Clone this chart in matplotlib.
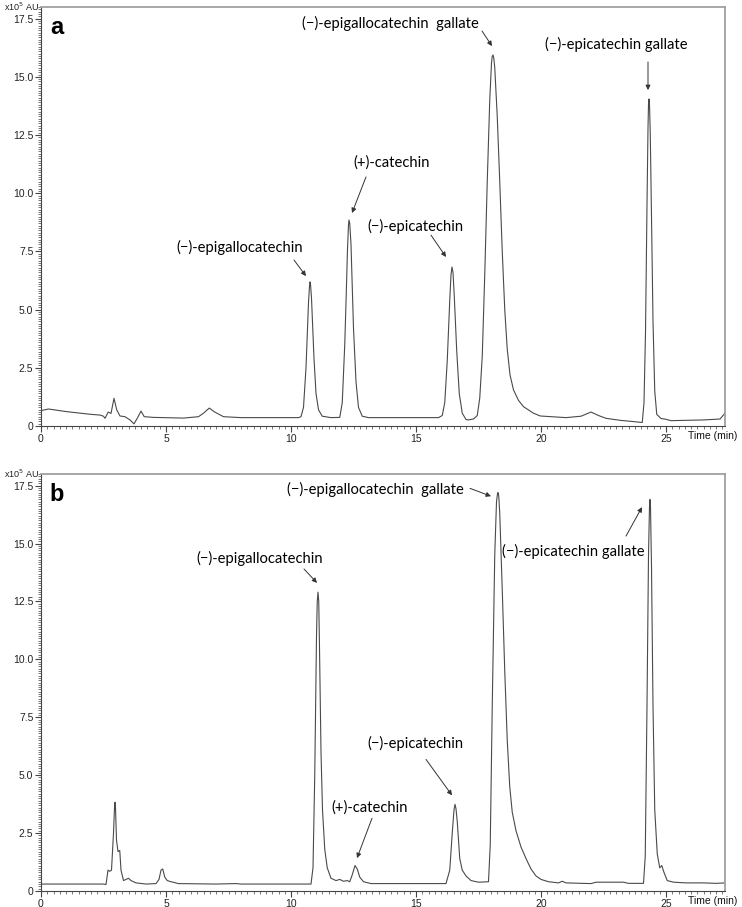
import matplotlib
matplotlib.use("Agg")
import matplotlib.pyplot as plt
from matplotlib.ticker import MultipleLocator, FuncFormatter

# ---- data ----
a_time = [0, 0.3, 1.0, 2.0, 2.36, 2.5, 2.56, 2.69, 2.8, 2.92, 3.03, 3.16, 3.36, 3.56, 3.72, 3.85,
          4.0, 4.13, 4.5, 5.7, 6.3, 6.5, 6.73, 6.95, 7.3, 8.0, 10.3, 10.4, 10.5, 10.6, 10.65, 10.7,
          10.74, 10.76, 10.78, 10.82, 10.87, 10.92, 11.0, 11.1, 11.25, 11.6, 11.95, 12.05, 12.15,
          12.2, 12.26, 12.3, 12.32, 12.35, 12.4, 12.45, 12.5, 12.6, 12.7, 12.85, 13.1, 15.9, 16.05,
          16.15, 16.25, 16.35, 16.4, 16.44, 16.48, 16.53, 16.63, 16.73, 16.85, 17.0, 17.08, 17.3,
          17.45, 17.55, 17.65, 17.75, 17.85, 17.95, 18.02, 18.05, 18.08, 18.11, 18.15, 18.25, 18.35,
          18.45, 18.55, 18.65, 18.76, 18.9, 19.1, 19.3, 19.7, 19.97, 21.0, 21.6, 22.0, 22.3, 22.6,
          23.2, 23.7, 24.05, 24.12, 24.18, 24.24, 24.28, 24.3, 24.32, 24.34, 24.37, 24.42, 24.48,
          24.55, 24.63, 24.8, 24.95, 25.2, 26.5, 27.16, 27.36]
a_signal = [0.66, 0.73, 0.62, 0.5, 0.47, 0.42, 0.33, 0.6, 0.54, 1.19, 0.69, 0.43, 0.4, 0.26, 0.09, 0.33,
            0.64, 0.4, 0.37, 0.34, 0.4, 0.55, 0.77, 0.6, 0.4, 0.36, 0.36, 0.4, 0.8, 2.5, 3.9, 5.3,
            6.0, 6.19, 6.1, 5.5, 4.2, 2.9, 1.4, 0.7, 0.42, 0.36, 0.37, 1.0, 3.5,
            5.3, 7.6, 8.65, 8.85, 8.7, 7.8, 6.0, 4.2, 1.9, 0.8, 0.42, 0.36, 0.36, 0.45,
            1.0, 2.8, 5.4, 6.5, 6.83, 6.6, 5.6, 3.2, 1.4, 0.55, 0.28, 0.26, 0.3,
            0.45, 1.2, 3.0, 6.5, 10.5, 14.0, 15.6, 15.88, 15.94, 15.82, 15.4, 13.3, 10.5,
            7.5, 5.0, 3.3, 2.2, 1.55, 1.1, 0.83, 0.55, 0.43, 0.36, 0.42, 0.6, 0.45, 0.33,
            0.24, 0.19, 0.15, 1.0, 4.0, 9.5, 12.8, 13.8, 14.05, 13.8, 12.6, 9.0, 4.5,
            1.5, 0.5, 0.32, 0.3, 0.23, 0.26, 0.3, 0.55]

b_time = [0, 2.5, 2.6, 2.68, 2.75, 2.82, 2.9, 2.94, 2.96, 2.98, 3.02, 3.08, 3.15, 3.2, 3.3, 3.4, 3.5,
          3.6, 3.8, 4.2, 4.6, 4.72, 4.8, 4.87, 4.95, 5.05, 5.2, 5.5, 7.0, 7.8, 8.0, 10.8, 10.88,
          10.95, 11.02, 11.05, 11.08, 11.11, 11.14, 11.2, 11.26, 11.35, 11.45, 11.6, 11.8, 11.95,
          12.1, 12.25, 12.35, 12.45, 12.56, 12.65, 12.75, 12.9, 13.2, 16.2, 16.35, 16.45, 16.52,
          16.56, 16.6, 16.65, 16.75, 16.85, 17.0, 17.2, 17.5, 17.9, 17.97, 18.05, 18.15, 18.22,
          18.26, 18.28, 18.31, 18.35, 18.45, 18.55, 18.65, 18.75, 18.85, 19.0, 19.2, 19.4, 19.6,
          19.8, 20.0, 20.3, 20.7, 20.85, 21.0, 22.0, 22.2, 23.3, 23.5, 24.1, 24.17, 24.24, 24.3,
          24.34, 24.36, 24.38, 24.42, 24.48, 24.55, 24.65, 24.75, 24.83, 24.92, 25.05, 25.3, 25.8,
          26.5, 27.0, 27.36]
b_signal = [0.3, 0.3, 0.28, 0.9, 0.85, 0.9, 2.5, 3.6, 3.83, 3.6, 2.2, 1.7, 1.75, 0.9, 0.45, 0.5, 0.55,
            0.45, 0.35, 0.3, 0.32, 0.5, 0.9, 0.95, 0.6, 0.45, 0.4, 0.32, 0.3, 0.32, 0.3, 0.3, 1.0,
            5.0, 11.0, 12.5, 12.9, 12.5, 10.5, 6.0, 3.5, 1.8, 1.0, 0.55, 0.45, 0.5,
            0.42, 0.45, 0.4, 0.7, 1.1, 0.95, 0.6, 0.4, 0.32, 0.32, 0.9, 2.5, 3.5,
            3.74, 3.55, 3.0, 1.4, 0.9, 0.65, 0.45, 0.38, 0.4, 2.0, 8.0, 14.5, 16.8,
            17.15, 17.2, 17.05, 16.3, 13.0, 9.5, 6.5, 4.5, 3.4, 2.6, 1.9, 1.4, 0.95,
            0.65, 0.5, 0.4, 0.35, 0.42, 0.35, 0.32, 0.38, 0.38, 0.33, 0.33, 1.5, 8.0, 14.5,
            16.6, 16.9, 16.6, 14.0, 8.0, 3.5, 1.6, 1.0, 1.1, 0.8, 0.45, 0.38, 0.35,
            0.35, 0.33, 0.35]

y_ticks = [0, 2.5, 5.0, 7.5, 10.0, 12.5, 15.0, 17.5]
x_ticks = [0, 5, 10, 15, 20, 25]

a_labels = ["(\u2212)-epigallocatechin", "(+)-catechin", "(\u2212)-epicatechin",
            "(\u2212)-epigallocatechin  gallate", "(\u2212)-epicatechin gallate"]
b_labels = ["(\u2212)-epigallocatechin", "(\u2212)-epigallocatechin  gallate", "(\u2212)-epicatechin",
            "(+)-catechin", "(\u2212)-epicatechin gallate"]

# ---- figure ----
W, H = 742, 907
fig = plt.figure(figsize=(W / 100, H / 100), dpi=100)
plt.rcParams['font.family'] = ['Liberation Sans', 'DejaVu Sans']

def px_axes(left, top, right, bottom):
    return fig.add_axes([left / W, 1 - bottom / H, (right - left) / W, (bottom - top) / H])

ax_a = px_axes(41, 7, 725, 426)
ax_b = px_axes(41, 474, 725, 891)

ann_font = dict(family=['Lato', 'DejaVu Sans'], fontsize=10.6, color='#000000')
arrow = dict(arrowstyle='-|>', lw=0.7, color='#333333', mutation_scale=7, shrinkA=0, shrinkB=0)

def style(ax, xmax, panel):
    ax.set_xlim(0, xmax)
    ax.set_ylim(0, 18.0)
    ax.set_xticks(x_ticks)
    ax.set_yticks(y_ticks)
    ax.xaxis.set_minor_locator(MultipleLocator(0.25))
    ax.yaxis.set_minor_locator(MultipleLocator(0.1))
    ax.yaxis.set_major_formatter(FuncFormatter(lambda v, p: "0" if v == 0 else f"{v:.1f}"))
    ax.tick_params(axis='both', which='major', length=4, width=0.8, color='#444444',
                   labelsize=7.5, labelcolor='#222222', pad=1.5)
    ax.tick_params(axis='both', which='minor', length=2, width=0.5, color='#444444')
    for s in ['top', 'right']:
        ax.spines[s].set_color('#a0a0a0')
        ax.spines[s].set_linewidth(1.3)
    for s in ['left', 'bottom']:
        ax.spines[s].set_color('#444444')
        ax.spines[s].set_linewidth(0.8)
    ax.text(0.013, 0.978, panel, transform=ax.transAxes, fontsize=17, fontweight='bold',
            va='top', ha='left', family=['Liberation Sans', 'DejaVu Sans'])
    ax.text(-0.003, 1.0, "x10$^5$ AU", transform=ax.transAxes, fontsize=6.5, ha='right',
            va='center', color='#222222')
    ax.text(1.018, -0.025, "Time (min)", transform=ax.transAxes, fontsize=7.5, ha='right',
            va='center', color='#111111')

ax_a.plot(a_time, a_signal, color='#4a4a4a', lw=0.8)
style(ax_a, 27.36, 'a')
ax_b.plot(b_time, b_signal, color='#4a4a4a', lw=0.8)
style(ax_b, 27.36, 'b')

# panel a annotations
a_ann = [((10.6, 6.44), (10.12, 7.13), (7.96, 7.69)),
         ((12.44, 9.15), (13.0, 10.7), (14.04, 11.3)),
         ((16.2, 7.26), (15.6, 8.2), (14.96, 8.59)),
         ((18.04, 16.32), (17.64, 16.97), (13.96, 17.31)),
         ((24.28, 14.43), (24.28, 15.64), (23.0, 16.37))]
for lab, (tip, tail, txt) in zip(a_labels, a_ann):
    ax_a.annotate("", xy=tip, xytext=tail, arrowprops=arrow)
    ax_a.text(txt[0], txt[1], lab, ha='center', va='center', **ann_font)

b_ann = [((11.04, 13.3), (10.52, 13.9), (8.76, 14.37)),
         ((18.0, 17.04), (17.16, 17.38), (13.36, 17.34)),
         ((16.44, 4.13), (15.4, 5.68), (14.96, 6.37)),
         ((12.64, 1.42), (13.24, 3.14), (13.16, 3.61)),
         ((24.04, 16.57), (23.4, 15.32), (21.28, 14.67))]
for lab, (tip, tail, txt) in zip(b_labels, b_ann):
    ax_b.annotate("", xy=tip, xytext=tail, arrowprops=arrow)
    ax_b.text(txt[0], txt[1], lab, ha='center', va='center', **ann_font)

fig.savefig("out.png", dpi=100)
